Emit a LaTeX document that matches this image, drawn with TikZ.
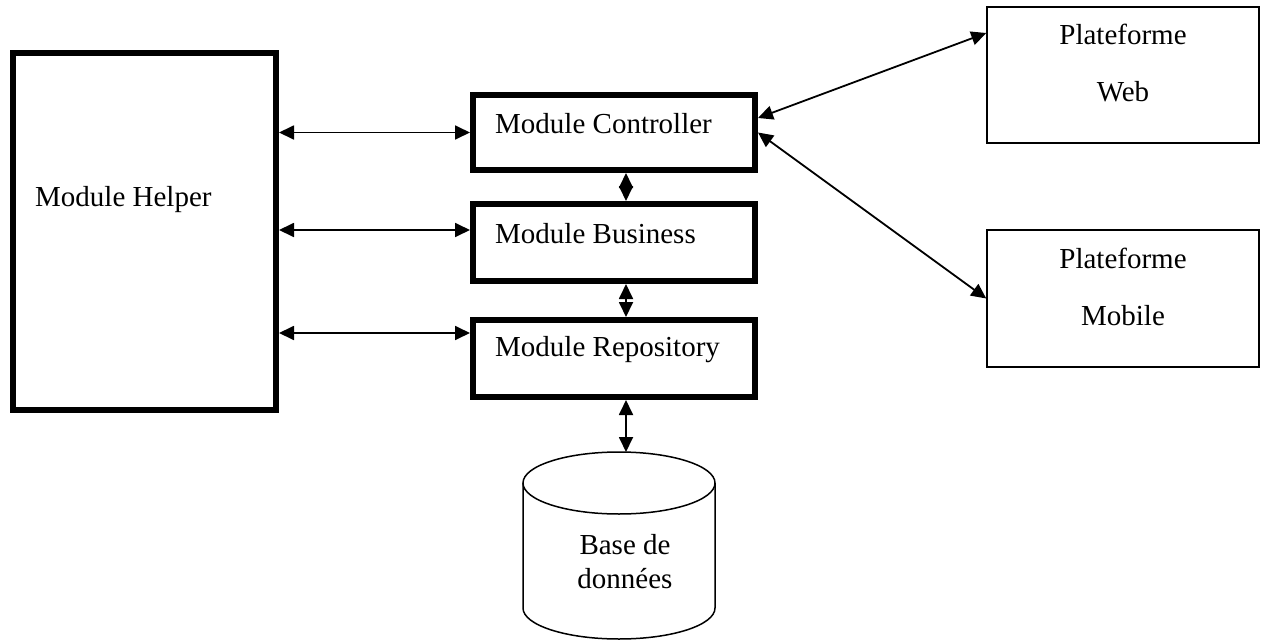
\documentclass[tikz,border=0pt]{standalone}
\usepackage{fontspec}
\setmainfont{Liberation Serif}
\usetikzlibrary{arrows.meta}
\tikzset{
  thickbox/.style={draw, line width=6pt, inner sep=0pt},
  thinbox/.style={draw, line width=1.5pt, inner sep=0pt},
  lbl/.style={font=\fontsize{29}{34}\selectfont, inner sep=0pt},
  clbl/.style={lbl, align=center},
  conn/.style={line width=1.8pt, {Triangle[length=15pt,width=14pt]}-{Triangle[length=15pt,width=14pt]}},
  dbline/.style={line width=1.5pt}
}
\begin{document}
\begin{tikzpicture}[x=1pt,y=1pt]
\useasboundingbox (0,0) rectangle (1270,-640);
% boxes
\node[thickbox, minimum width=263pt, minimum height=357pt] (helper) at (144.5,-231.5) {};
\node[lbl, anchor=base west] (helperlbl) at (35,-206.7) {Module Helper};
\node[thickbox, minimum width=282pt, minimum height=75pt] (ctrl) at (614,-132.5) {};
\node[lbl, anchor=base west] (ctrllbl) at (495,-133.3) {Module Controller};
\node[thickbox, minimum width=282pt, minimum height=77pt] (bus) at (614,-242.5) {};
\node[lbl, anchor=base west] (buslbl) at (495,-243.3) {Module Business};
\node[thickbox, minimum width=282pt, minimum height=77pt] (repo) at (614,-358.5) {};
\node[lbl, anchor=base west] (repolbl) at (495,-356.7) {Module Repository};
\node[thinbox, minimum width=272pt, minimum height=136pt] (web) at (1123,-75) {};
\node[clbl] (weblbl) at (1123,-62.6) {Plateforme\\[23pt]Web};
\node[thinbox, minimum width=272pt, minimum height=137pt] (mobile) at (1123,-298.5) {};
\node[clbl] (mobilelbl) at (1123,-286.6) {Plateforme\\[23pt]Mobile};
% database cylinder
\draw[dbline] (619,-483) ellipse [x radius=96, y radius=31];
\draw[dbline] (523,-483) -- (523,-608) arc[start angle=180, end angle=360, x radius=96, y radius=31] -- (715,-483);
\coordinate (dbtop) at (626,-452);
\node[clbl] (dblbl) at (625,-561.1) {Base de\\donn\'ees};
% connectors
\draw[conn] (helper.east |- ctrl.west) -- (ctrl.west);
\coordinate (bw) at ([yshift=12.5pt]bus.west);
\draw[conn] (helper.east |- bw) -- (bw);
\coordinate (rw) at ([yshift=25.5pt]repo.west);
\draw[conn] (helper.east |- rw) -- (rw);
\draw[conn] ([xshift=12pt]ctrl.south) -- ([xshift=12pt]bus.north);
\draw[conn] ([xshift=12pt]bus.south) -- ([xshift=12pt]repo.north);
\draw[conn] ([xshift=12pt]repo.south) -- (dbtop);
\draw[conn] ([yshift=14.5pt]ctrl.east) -- ([yshift=42pt]web.west);
\draw[conn] (ctrl.east) -- (mobile.west);
\end{tikzpicture}
\end{document}
